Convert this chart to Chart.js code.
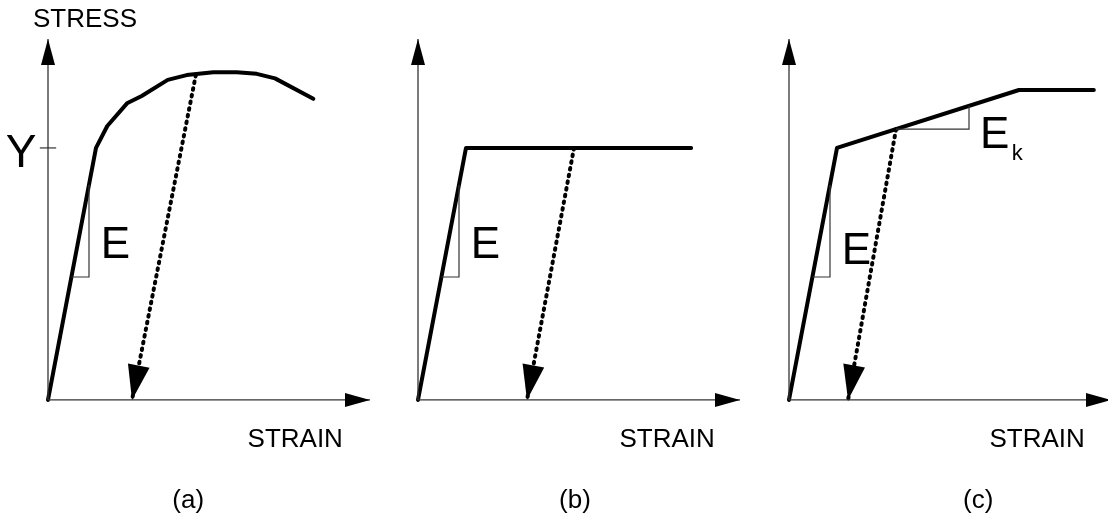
<!DOCTYPE html>
<html>
<head>
<meta charset="utf-8">
<script src="https://cdn.jsdelivr.net/npm/chart.js@4/dist/chart.umd.min.js"></script>
<style>
  body { margin: 0; background: #fff; overflow: hidden; width: 1108px; height: 529px; position: relative; }
  canvas { position: absolute; top: 0; }
</style>
</head>
<body>
<canvas id="chartA" width="370" height="529" style="left:0px"></canvas>
<canvas id="chartB" width="370" height="529" style="left:370px"></canvas>
<canvas id="chartC" width="370" height="529" style="left:741px"></canvas>
<script>
// strain in units of yield strain, stress in units of yield stress Y
const axisStrain = [0, 6.708];
const axisStress = [0, 1.432];

// (a) real curve
const strainA = [0, 1, 1.235, 1.646, 1.952, 2.494, 2.889, 3.444, 3.931, 4.348, 4.729, 5.527];
const stressA = [0, 1, 1.087, 1.177, 1.206, 1.270, 1.289, 1.300, 1.300, 1.294, 1.276, 1.195];
const unloadStrainA = [3.08, 1.75];
const unloadStressA = [1.29, 0];

// (b) elastic - perfectly plastic
const strainB = [0, 1, 5.69];
const stressB = [0, 1, 1];
const unloadStrainB = [3.25, 2.27];
const unloadStressB = [1, 0];

// (c) bilinear hardening
const strainC = [0, 1, 4.79, 6.35];
const stressC = [0, 1, 1.23, 1.23];
const unloadStrainC = [2.23, 1.23];
const unloadStressC = [1.075, 0];

// slope markers
const slopeEStrain = [0.488, 0.854, 0.854];
const slopeEStress = [0.488, 0.488, 0.854];
const slopeKStrain = [2.23, 3.75, 3.75];
const slopeKStress = [1.075, 1.075, 1.167];

const yTickStrain = [-0.17, 0.17];
const yTickStress = [1, 1];

const FONT = "'Liberation Sans', Arial, sans-serif";

const pts = (xs, ys) => xs.map((x, i) => ({ x: x, y: ys[i] }));

const arrowsPlugin = {
  id: "arrows",
  afterDatasetsDraw(chart, args, opts) {
    const ctx = chart.ctx;
    chart.data.datasets.forEach((ds, i) => {
      if (!ds.arrow) return;
      const els = chart.getDatasetMeta(i).data;
      const a = els[els.length - 2], b = els[els.length - 1];
      const ang = Math.atan2(b.y - a.y, b.x - a.x);
      const len = ds.arrow[0], half = ds.arrow[1];
      ctx.save();
      ctx.translate(b.x, b.y);
      ctx.rotate(ang);
      ctx.beginPath();
      ctx.moveTo(0, 0);
      ctx.lineTo(-len, -half);
      ctx.lineTo(-len, half);
      ctx.closePath();
      ctx.fillStyle = "#000";
      ctx.fill();
      ctx.restore();
    });
    const sx = chart.scales.x, sy = chart.scales.y;
    (opts.labels || []).forEach(l => {
      ctx.save();
      ctx.font = l.size + "px " + FONT;
      ctx.fillStyle = "#000";
      ctx.textAlign = l.align || "left";
      ctx.textBaseline = l.base || "alphabetic";
      ctx.fillText(l.text, sx.getPixelForValue(l.x), sy.getPixelForValue(l.y));
      ctx.restore();
    });
  }
};

const axisSets = () => [
  { data: pts(axisStrain, [0, 0]), borderColor: "#333", borderWidth: 1.3, arrow: [25, 7] },
  { data: pts([0, 0], axisStress), borderColor: "#333", borderWidth: 1.3, arrow: [26, 7] },
  { data: pts(slopeEStrain, slopeEStress), borderColor: "#333", borderWidth: 1.2 }
];

const makeChart = (id, curve, unload, extra, labels) => {
  const datasets = axisSets().concat(extra).concat([
    { data: curve, borderColor: "#000", borderWidth: 4, borderJoinStyle: "round", borderCapStyle: "round" },
    { data: unload, borderColor: "#000", borderWidth: 4, borderDash: [1.6, 5.2], borderCapStyle: "round", arrow: [35, 11] }
  ]);
  datasets.forEach(d => { d.showLine = true; d.pointRadius = 0; d.fill = false; d.tension = 0; d.clip = false; });
  return new Chart(document.getElementById(id), {
    type: "scatter",
    data: { datasets: datasets },
    options: {
      responsive: false,
      animation: false,
      events: [],
      layout: { padding: 0 },
      plugins: { legend: { display: false }, tooltip: { enabled: false }, arrows: { labels: labels } },
      scales: {
        x: { type: "linear", min: -1, max: 6.708, display: false },
        y: { type: "linear", min: -0.512, max: 1.587, display: false }
      }
    },
    plugins: [arrowsPlugin]
  });
};

makeChart("chartA", pts(strainA, stressA), pts(unloadStrainA, unloadStressA),
  [{ data: pts(yTickStrain, yTickStress), borderColor: "#333", borderWidth: 1.2 }],
  [
    { text: "STRESS", x: 0.77, y: 1.48, size: 26, align: "center" },
    { text: "Y", x: -0.24, y: 0.925, size: 46, align: "right" },
    { text: "E", x: 1.1, y: 0.563, size: 44 },
    { text: "STRAIN", x: 5.15, y: -0.187, size: 26, align: "center" },
    { text: "(a)", x: 2.92, y: -0.40, size: 26, align: "center", base: "middle" }
  ]);

makeChart("chartB", pts(strainB, stressB), pts(unloadStrainB, unloadStressB), [],
  [
    { text: "E", x: 1.1, y: 0.563, size: 44 },
    { text: "STRAIN", x: 5.19, y: -0.187, size: 26, align: "center" },
    { text: "(b)", x: 3.27, y: -0.40, size: 26, align: "center", base: "middle" }
  ]);

makeChart("chartC", pts(strainC, stressC), pts(unloadStrainC, unloadStressC),
  [{ data: pts(slopeKStrain, slopeKStress), borderColor: "#333", borderWidth: 1.2 }],
  [
    { text: "E", x: 1.1, y: 0.54, size: 44 },
    { text: "E", x: 3.98, y: 1.0, size: 44 },
    { text: "k", x: 4.64, y: 0.952, size: 22 },
    { text: "STRAIN", x: 5.17, y: -0.187, size: 26, align: "center" },
    { text: "(c)", x: 3.94, y: -0.40, size: 26, align: "center", base: "middle" }
  ]);
</script>
</body>
</html>
